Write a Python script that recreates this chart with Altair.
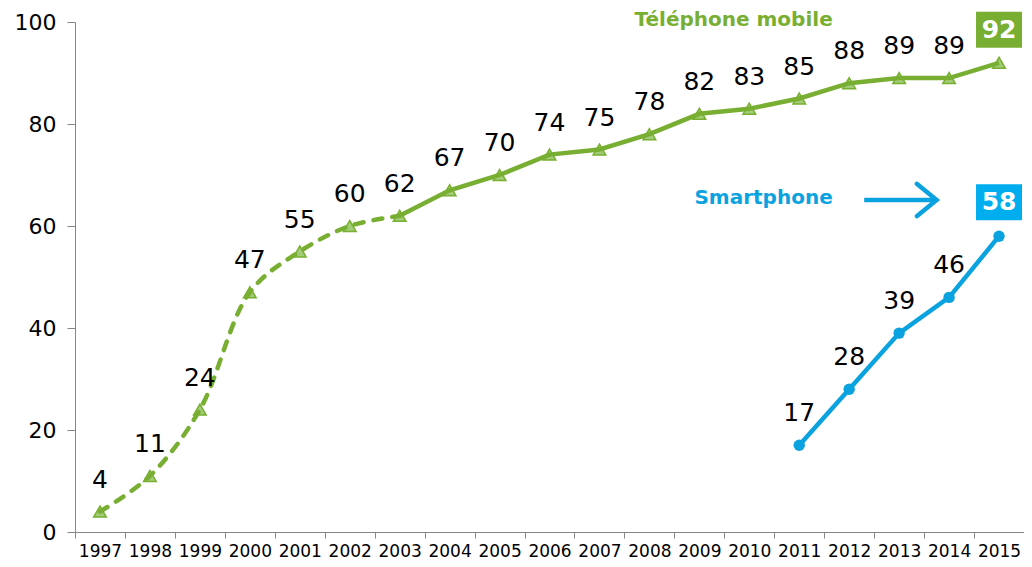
import altair as alt
import pandas as pd

# ---- data ----
years = list(range(1997, 2016))
mobile = [4, 11, 24, 47, 55, 60, 62, 67, 70, 74, 75, 78, 82, 83, 85, 88, 89, 89, 92]
smart_years = [2011, 2012, 2013, 2014, 2015]
smart = [17, 28, 39, 46, 58]
y_ticks = [0, 20, 40, 60, 80, 100]
series_names = ["Téléphone mobile", "Smartphone"]

GREEN = "#78AF32"
GREEN_FILL = "#A3CC78"
BLUE = "#0AA3DF"
BLUE_BOX = "#00AEEF"
FONT = "DejaVu Sans"

mob = pd.DataFrame({"year": years, "value": mobile})
mob_dash = mob[mob.year <= 2003]
mob_solid = mob[mob.year >= 2003]
mob_lab = mob[mob.year < 2015]
mob_last = mob[mob.year == 2015]
sm = pd.DataFrame({"year": smart_years, "value": smart})
sm_lab = sm[sm.year < 2015]
sm_last = sm[sm.year == 2015]

xscale = alt.Scale(type="band", paddingInner=0, paddingOuter=0, domain=years)
xaxis = alt.Axis(title=None, labelAngle=0, tickBand="extent", labelFont=FONT,
                 labelFontSize=17, labelColor="black", domainColor="#868686",
                 tickColor="#868686", tickSize=6, labelPadding=5, grid=False)
yscale = alt.Scale(domain=[0, 100], nice=False, zero=True)
yaxis = alt.Axis(title=None, values=y_ticks, grid=False, labelFont=FONT,
                 labelFontSize=22, labelColor="black", domainColor="#868686",
                 tickColor="#868686", tickSize=8, labelPadding=11)


def enc(df_mark):
    return df_mark.encode(
        x=alt.X("year:O", scale=xscale, axis=xaxis, bandPosition=0.5),
        y=alt.Y("value:Q", scale=yscale, axis=yaxis),
    )


tri = enc(alt.Chart(mob).mark_point(
    shape="triangle-up", filled=True, fill=GREEN_FILL, stroke=GREEN,
    strokeWidth=1.5, size=160, opacity=1))
dash_line = enc(alt.Chart(mob_dash).mark_line(
    color=GREEN, strokeWidth=4.5, strokeDash=[9, 10], strokeCap="round",
    interpolate="catmull-rom"))
solid_line = enc(alt.Chart(mob_solid).mark_line(color=GREEN, strokeWidth=4.5))
mob_text = enc(alt.Chart(mob_lab).mark_text(
    dy=-32, fontSize=25, font=FONT, color="black")).encode(text="value:Q")
mob_box = enc(alt.Chart(mob_last).mark_point(
    shape="M-1.15,-0.9H1.15V0.9H-1.15Z", filled=True, fill=GREEN, size=1600,
    yOffset=-33, opacity=1, strokeWidth=0))
mob_box_text = enc(alt.Chart(mob_last).mark_text(
    dy=-33, fontSize=25, font=FONT, fontWeight="bold", color="white")).encode(text="value:Q")

sm_line = enc(alt.Chart(sm).mark_line(color=BLUE, strokeWidth=4.5))
sm_pts = enc(alt.Chart(sm).mark_point(shape="circle", filled=True, color=BLUE,
                                      size=130, opacity=1))
sm_text = enc(alt.Chart(sm_lab).mark_text(
    dy=-32, fontSize=25, font=FONT, color="black")).encode(text="value:Q")
sm_box = enc(alt.Chart(sm_last).mark_point(
    shape="M-1.15,-0.9H1.15V0.9H-1.15Z", filled=True, fill=BLUE_BOX, size=1600,
    yOffset=-34, opacity=1, strokeWidth=0))
sm_box_text = enc(alt.Chart(sm_last).mark_text(
    dy=-34, fontSize=25, font=FONT, fontWeight="bold", color="white")).encode(text="value:Q")

# ---- annotations (series names + arrow) on a continuous year scale ----
ann_scale = alt.Scale(domain=[1996.5, 2015.5], nice=False, zero=False)
ann_names = pd.DataFrame({"x": [2011.67, 2011.67], "y": [100.3, 65.4],
                          "text": series_names, "c": [GREEN, BLUE]})
name_text = alt.Chart(ann_names).mark_text(
    align="right", baseline="middle", fontSize=20, font=FONT, fontWeight="bold"
).encode(
    x=alt.X("x:Q", scale=ann_scale, axis=None),
    y=alt.Y("y:Q", scale=yscale, axis=yaxis),
    text="text:N",
    color=alt.Color("c:N", scale=None),
)
arrow_df = pd.DataFrame({"x": [2012.3], "x2": [2013.75], "y": [65.1]})
arrow_shaft = alt.Chart(arrow_df).mark_rule(color=BLUE, strokeWidth=4.5).encode(
    x=alt.X("x:Q", scale=ann_scale, axis=None),
    x2="x2:Q",
    y=alt.Y("y:Q", scale=yscale, axis=yaxis),
)
arrow_head = alt.Chart(arrow_df).mark_point(
    shape="M-1.1,-0.9L0,0L-1.1,0.9", filled=False, color=BLUE, size=1296,
    strokeWidth=4.5, strokeCap="round", strokeJoin="miter", opacity=1
).encode(
    x=alt.X("x2:Q", scale=ann_scale, axis=None),
    y=alt.Y("y:Q", scale=yscale, axis=yaxis),
)

main = alt.layer(tri, dash_line, solid_line, mob_text, mob_box, mob_box_text,
                 sm_line, sm_pts, sm_text, sm_box, sm_box_text)
ann = alt.layer(name_text, arrow_shaft, arrow_head)

chart = alt.layer(main, ann).resolve_scale(x="independent").properties(
    width=949, height=510,
    autosize=alt.AutoSizeParams(type="none"),
    padding={"left": 67, "top": 14, "right": 0, "bottom": 31},
).configure_view(stroke=None).configure_axis(labelFont=FONT)

chart.save("out.html", embed_options={"renderer": "svg", "actions": False})
